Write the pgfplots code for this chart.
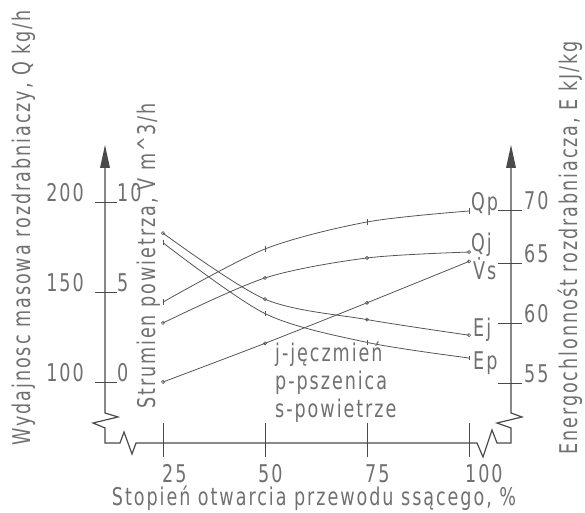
\documentclass[border=0pt]{standalone}
\usepackage{pgfplots}
\pgfplotsset{compat=1.18}
\usepackage{pgfplotstable}
\usepackage{fontspec}
\setmainfont{DejaVu Sans}[FakeStretch=0.72, LetterSpace=8]
\definecolor{txt}{HTML}{707070}
\definecolor{ln}{HTML}{4A4A4A}
\definecolor{dl}{HTML}{555555}

% x = opening [%], Q [kg/h]
\pgfplotstableread{
x Qp Qj
25 144.4 132.8
50 173.9 157.8
75 188.9 168.9
100 195.0 172.2
}\qdata
% V [m^3/h]
\pgfplotstableread{
x Vs
25 0.0
50 2.15
75 4.4
100 6.7
}\vdata
% E [kJ/kg]
\pgfplotstableread{
x Ej Ep
25 67.4 66.6
50 61.9 60.7
75 60.2 58.3
100 58.9 57.0
}\edata

\begin{document}
\begin{tikzpicture}[x=1bp,y=1bp]
\useasboundingbox (0,0) rectangle (585,513);
\begin{axis}[at={(105bp,70bp)}, anchor=south west, scale only axis,
  width=406bp, height=298bp,
  xmin=10.78, xmax=110.29, ymin=66.11, ymax=231.67,
  axis lines=none, ticks=none, clip=false]
\addplot[dl, line width=0.8pt, smooth, mark=|, mark size=3pt, mark options={solid,line width=1pt}] table[x=x,y=Qp] {\qdata};
\addplot[dl, line width=0.8pt, smooth, mark=o, mark size=1.6pt, mark options={solid,line width=0.6pt}] table[x=x,y=Qj] {\qdata};
\addplot[dl, line width=0.8pt, smooth, mark=o, mark size=1.6pt, mark options={solid,line width=0.6pt}] table[x=x,y expr=100+10*\thisrow{Vs}] {\vdata};
\addplot[dl, line width=0.8pt, smooth, mark=o, mark size=1.6pt, mark options={solid,line width=0.6pt}] table[x=x,y expr=100+(\thisrow{Ej}-55)*20/3] {\edata};
\addplot[dl, line width=0.8pt, smooth, mark=|, mark size=2.5pt, mark options={solid,line width=1pt}] table[x=x,y expr=100+(\thisrow{Ep}-55)*20/3] {\edata};
\end{axis}

% frame with breaks
\draw[ln, line width=1.2pt, line join=miter] (105,345) -- (105,100) -- (118,96) -- (93,90) -- (105,85) -- (105,70)
  -- (120,70) -- (124,81) -- (132,59) -- (136,70) -- (477,70) -- (483,56) -- (492,83) -- (497,70) -- (511,70)
  -- (511,85) -- (497,90) -- (522,96) -- (511,100) -- (511,345);
\fill[ln] (100,345) -- (105,368) -- (110,345) -- cycle;
\fill[ln] (506,345) -- (511,368) -- (516,345) -- cycle;
% ticks
\draw[ln, line width=0.9pt] (95,311)--(117,311) (95,221)--(117,221) (95,131)--(117,131);
\draw[ln, line width=0.9pt] (498,303)--(522,303) (498,250)--(522,250) (498,190)--(522,190) (498,130)--(522,130);
\draw[ln, line width=0.9pt] (163,90)--(163,56) (265,90)--(265,56) (367,90)--(367,56) (469,90)--(469,56);

\begin{scope}[every node/.style={text=txt, inner sep=0pt, font=\fontsize{24.5}{28}\selectfont}]
\node[anchor=base east] at (84,311) {200};
\node[anchor=base east] at (84,221) {150};
\node[anchor=base east] at (84,131) {100};
\node[anchor=base west] at (117,311) {10};
\node[anchor=base west] at (117,221) {5};
\node[anchor=base west] at (117,131) {0};
\node[anchor=base west] at (524,303) {70};
\node[anchor=base west] at (524,250) {65};
\node[anchor=base west] at (524,190) {60};
\node[anchor=base west] at (524,130) {55};
\node[anchor=base west] at (471,302) {Qp};
\node[anchor=base west] at (471,261) {Qj};
\node[anchor=base west] at (473,233) {\.{V}s};
\node[anchor=base west] at (473,176) {Ej};
\node[anchor=base west] at (473,143) {Ep};
\node[anchor=base west] at (275,151) {j-jęczmień};
\node[anchor=base west] at (275,123) {p-pszenica};
\node[anchor=base west] at (275,95) {s-powietrze};
\node[anchor=base west] at (162,30) {25};
\node[anchor=base west] at (258,30) {50};
\node[anchor=base west] at (365,30) {75};
\node[anchor=base west] at (465,30) {100};
\node[anchor=base] at (314,7) {Stopień otwarcia przewodu ssącego, \%};
\node[rotate=90] at (24,285) {Wydajnosc masowa rozdrabniaczy, Q kg/h};
\node[rotate=90] at (147,257) {Strumien powietrza, \.{V} m\textasciicircum 3/h};
\node[rotate=90] at (570,265) {Energochlonnośt rozdrabniacza, E kJ/kg};
\end{scope}
\end{tikzpicture}
\end{document}
